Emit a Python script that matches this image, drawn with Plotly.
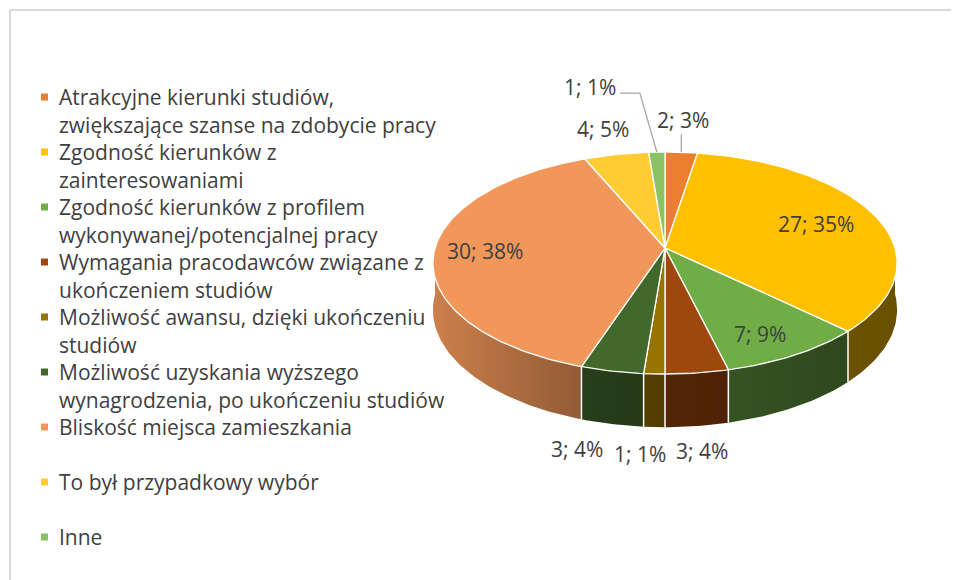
import math
import plotly.graph_objects as go

# ---------------- data ----------------
categories = [
    "Atrakcyjne kierunki studiów,\nzwiększające szanse na zdobycie pracy",
    "Zgodność kierunków z\nzainteresowaniami",
    "Zgodność kierunków z profilem\nwykonywanej/potencjalnej pracy",
    "Wymagania pracodawców związane z\nukończeniem studiów",
    "Możliwość awansu, dzięki ukończeniu\nstudiów",
    "Możliwość uzyskania wyższego\nwynagrodzenia, po ukończeniu studiów",
    "Bliskość miejsca zamieszkania",
    "To był przypadkowy wybór",
    "Inne",
]
values = [2, 27, 7, 3, 1, 3, 30, 4, 1]
colors = ["#ED7D31", "#FFC000", "#70AD47", "#9E480E", "#997300",
          "#43682B", "#F1975A", "#FFCD33", "#8CC168"]

# ---------------- geometry / style ----------------
W, H = 959, 580
OFF = 8                    # page body margin compensation
CX, CY = 665.0, 248.0      # pie centre (pixels)
R, B = 230.0, 109.0        # horizontal / vertical radius
P = 0.135                  # perspective factor
D0 = 46.0                  # thickness
FONT = "Open Sans"
FS = 21
TXT = "#404040"

def proj(theta, r=1.0, drop=0.0):
    t = math.radians(theta)
    den = 1 + P * math.cos(t)
    return (CX + R * r * math.sin(t) / den,
            CY - B * r * math.cos(t) / den + drop / den)

def shade(theta):
    if theta <= 150:
        return 0.42
    if theta >= 262:
        return 0.85
    return 0.42 + (theta - 150) * 0.43 / 112

def darken(hexc, f):
    h = hexc.lstrip("#")
    r, g, b = int(h[0:2], 16), int(h[2:4], 16), int(h[4:6], 16)
    return "#%02x%02x%02x" % (int(r * f), int(g * f), int(b * f))

total = sum(values)
bounds = [0.0]
for v in values:
    bounds.append(bounds[-1] + v / total * 360.0)

fig = go.Figure()

# ---- side walls (front half only), horizontal gradient ----
for i, v in enumerate(values):
    a0, a1 = max(bounds[i], 90.0), min(bounds[i + 1], 270.0)
    if a1 <= a0:
        continue
    n = max(2, int(math.ceil(a1 - a0)))
    ts = [a0 + (a1 - a0) * k / n for k in range(n + 1)]
    top = [proj(t) for t in ts]
    bot = [proj(t, 1, D0) for t in reversed(ts)]
    pts = top + bot + [top[0]]
    xs = [p[0] for p in top]
    t_left = ts[xs.index(min(xs))]
    t_right = ts[xs.index(max(xs))]
    cl = darken(colors[i], shade(t_left))
    cr = darken(colors[i], shade(t_right))
    fig.add_trace(go.Scatter(
        x=[p[0] for p in pts], y=[p[1] for p in pts], mode="lines",
        fill="toself", fillcolor=cl,
        fillgradient=dict(type="horizontal", colorscale=[[0, cl], [1, cr]]),
        line=dict(width=0), hoverinfo="skip", showlegend=False))

# white separators on side walls
for b in bounds[1:-1]:
    if 90 < b < 270:
        p0, p1 = proj(b), proj(b, 1, D0)
        fig.add_trace(go.Scatter(x=[p0[0], p1[0]], y=[p0[1], p1[1]], mode="lines",
                                 line=dict(color="white", width=1.5),
                                 hoverinfo="skip", showlegend=False))

# ---- top faces ----
for i, v in enumerate(values):
    a0, a1 = bounds[i], bounds[i + 1]
    n = max(2, int(math.ceil((a1 - a0) / 1.0)))
    pts = [(CX, CY)] + [proj(a0 + (a1 - a0) * k / n) for k in range(n + 1)] + [(CX, CY)]
    fig.add_trace(go.Scatter(
        x=[p[0] for p in pts], y=[p[1] for p in pts], mode="lines",
        fill="toself", fillcolor=colors[i], line=dict(color="white", width=1.3),
        hoverinfo="skip", showlegend=False))

# ---- data labels ----
# (radius factor, dx, dy) per slice: placement style
label_style = [(1.0, 2, -32), (0.72, 0, 0), (0.73, 0, 8), (1.0, 5, 78),
               (1.0, -14, 80), (1.0, -35, 78), (0.78, 0, 0), (1.27, 0, 0), (1.0, -67, -65)]
annotations = []
shapes = []
for i, v in enumerate(values):
    mid = (bounds[i] + bounds[i + 1]) / 2
    r, dx, dy = label_style[i]
    x, y = proj(mid, r)
    x, y = x + dx, y + dy
    pct = round(v / total * 100)
    annotations.append(dict(x=x, y=y, xref="x", yref="y", text=f"{v}; {pct}%",
                            showarrow=False, font=dict(family=FONT, size=FS, color=TXT)))

# leader lines
e0 = proj((bounds[0] + bounds[1]) / 2)
shapes.append(dict(type="line", xref="x", yref="y", x0=e0[0], y0=e0[1], x1=e0[0], y1=e0[1] - 18,
                   line=dict(color="#a6a6a6", width=1.3)))
e8 = proj((bounds[8] + bounds[9]) / 2)
shapes.append(dict(type="path", xref="x", yref="y",
                   path=f"M{e8[0]},{e8[1]} L{e8[0]-17},{e8[1]-59} L{e8[0]-37},{e8[1]-59}",
                   line=dict(color="#a6a6a6", width=1.3)))

# ---- legend (manual) ----
LEG_X, LEG_Y0, LEG_PITCH, LINE_H = 57, 97, 55, 28
for i, cat in enumerate(categories):
    y0 = LEG_Y0 + i * LEG_PITCH
    shapes.append(dict(type="rect", xref="x", yref="y", x0=41, x1=48, y0=y0 - 3.5, y1=y0 + 3.5,
                       fillcolor=colors[i], line=dict(width=0)))
    for j, line in enumerate(cat.split("\n")):
        annotations.append(dict(x=LEG_X, y=y0 + j * LINE_H, xref="x", yref="y", text=line,
                                showarrow=False, xanchor="left", yanchor="middle",
                                font=dict(family=FONT, size=FS, color=TXT)))

# chart border (top & left visible)
shapes.append(dict(type="line", xref="x", yref="y", x0=10, x1=W, y0=10, y1=10,
                   line=dict(color="#d9d9d9", width=2)))
shapes.append(dict(type="line", xref="x", yref="y", x0=10, x1=10, y0=10, y1=H,
                   line=dict(color="#d9d9d9", width=2)))

fig.update_layout(
    width=W - OFF, height=H - OFF, margin=dict(l=0, r=0, t=0, b=0),
    paper_bgcolor="white", plot_bgcolor="white",
    xaxis=dict(range=[OFF, W], visible=False, fixedrange=True),
    yaxis=dict(range=[H, OFF], visible=False, fixedrange=True),
    annotations=annotations, shapes=shapes, showlegend=False,
)
fig.write_html("out.html")
